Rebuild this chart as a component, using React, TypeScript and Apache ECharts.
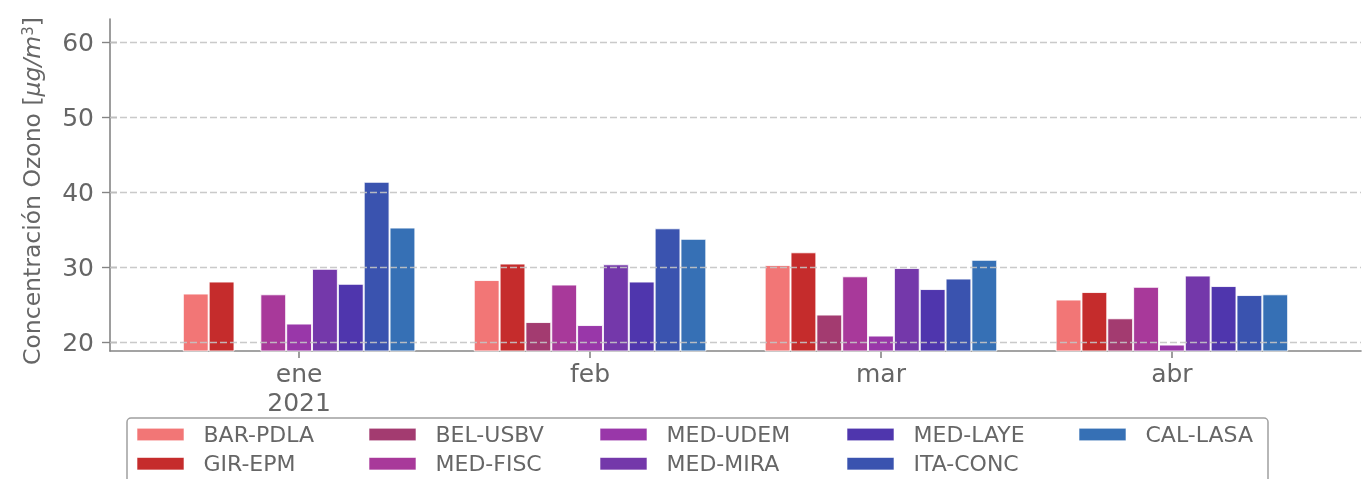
import React, { useEffect, useRef } from "react";
import * as echarts from "echarts";

const months = ["ene\n2021", "feb", "mar", "abr"];
const monthPos = [0, 1, 2, 3];
const yTicks = [20, 30, 40, 50, 60];

const stations = [
  "BAR-PDLA",
  "GIR-EPM",
  "BEL-USBV",
  "MED-FISC",
  "MED-UDEM",
  "MED-MIRA",
  "MED-LAYE",
  "ITA-CONC",
  "CAL-LASA",
];
const colors = [
  "#f27676",
  "#c52c2c",
  "#a33b70",
  "#a8399a",
  "#9937a9",
  "#7438aa",
  "#4f36ad",
  "#3a53af",
  "#3670b5",
];

const barPdla = [26.5, 28.3, 30.3, 25.7];
const girEpm = [28.1, 30.5, 32.0, 26.7];
const belUsbv = [null, 22.7, 23.7, 23.2];
const medFisc = [26.4, 27.7, 28.8, 27.4];
const medUdem = [22.5, 22.3, 20.9, 19.7];
const medMira = [29.8, 30.4, 29.9, 28.9];
const medLaye = [27.8, 28.1, 27.1, 27.5];
const itaConc = [41.4, 35.2, 28.5, 26.3];
const calLasa = [35.3, 33.8, 31.0, 26.4];

const seriesValues = [
  barPdla,
  girEpm,
  belUsbv,
  medFisc,
  medUdem,
  medMira,
  medLaye,
  itaConc,
  calLasa,
];

// legend layout: column-major, 2 rows
const legendLeft = [137, 369, 600, 847, 1079];
const legendRowY = [434.5, 463.7];

const FONT = "DejaVu Sans";
const TXT = "#666666";
const AX = "#858585";

export default function App() {
  const ref = useRef<HTMLDivElement>(null);
  useEffect(() => {
    if (!ref.current) return;
    const chart = echarts.init(ref.current, null, { renderer: "svg" });
    const series: any[] = stations.map((name, k) => ({
      name,
      type: "bar",
      barWidth: 25.84,
      barGap: "0%",
      data: seriesValues[k]
        .map((v, i) => (v == null ? null : [monthPos[i], v]))
        .filter((d) => d !== null),
      itemStyle: {
        color: colors[k],
        borderColor: "rgba(255,255,255,0.85)",
        borderWidth: 1,
      },
      emphasis: { disabled: true },
    }));
    series[series.length - 1].markLine = {
      silent: true,
      symbol: "none",
      label: { show: false },
      lineStyle: { color: "#c4c4c4", type: [7, 3], width: 1.4, opacity: 0.9 },
      data: yTicks.map((t) => ({ yAxis: t })),
      z: 10,
    };

    const legendGraphics: any[] = [];
    stations.forEach((name, k) => {
      const c = Math.floor(k / 2);
      const r = k % 2;
      legendGraphics.push({
        type: "rect",
        shape: { x: legendLeft[c], y: legendRowY[r] - 6.25, width: 47, height: 12.5 },
        style: { fill: colors[k], stroke: "rgba(255,255,255,0.6)", lineWidth: 1 },
        silent: true,
      });
      legendGraphics.push({
        type: "text",
        x: legendLeft[c] + 66.5,
        y: legendRowY[r],
        style: {
          text: name,
          fontFamily: FONT,
          fontSize: 22,
          fill: TXT,
          align: "left",
          verticalAlign: "middle",
        },
        silent: true,
      });
    });

    const option: any = {
      animation: false,
      grid: { left: 110, right: 5, top: 19, bottom: 128, containLabel: false },
      xAxis: {
        type: "value",
        min: -0.65,
        max: 3.65,
        axisLine: { show: true, onZero: false, lineStyle: { color: AX, width: 1.6 } },
        axisTick: {
          show: true,
          customValues: monthPos,
          length: 7,
          lineStyle: { color: AX, width: 1.6 },
        },
        axisLabel: {
          customValues: monthPos,
          formatter: (v: number) => months[Math.round(v)],
          fontFamily: FONT,
          fontSize: 25,
          lineHeight: 29,
          color: TXT,
          margin: 8,
        },
        splitLine: { show: false },
      },
      yAxis: [
        {
          type: "value",
          min: 18.84,
          max: 63.1,
          axisLine: { show: true, onZero: false, lineStyle: { color: AX, width: 1.6 } },
          axisTick: {
            show: true,
            customValues: yTicks,
            length: 8,
            lineStyle: { color: AX, width: 1.4 },
          },
          axisLabel: {
            customValues: yTicks,
            fontFamily: FONT,
            fontSize: 25,
            color: TXT,
            margin: 16,
          },
          splitLine: { show: false },
        },
        {
          type: "value",
          position: "left",
          offset: 0,
          min: 18.84,
          max: 63.1,
          axisLine: { show: false, onZero: false },
          axisTick: {
            show: true,
            inside: true,
            customValues: yTicks,
            length: 7,
            lineStyle: { color: AX, width: 1.4 },
          },
          axisLabel: { show: false },
          splitLine: { show: false },
        },
      ],
      graphic: [
        {
          type: "rect",
          shape: { x: 127, y: 418, width: 1141, height: 90, r: 4 },
          style: { fill: "none", stroke: "#a0a0a0", lineWidth: 1.5 },
          silent: true,
        },
        ...legendGraphics,
        {
          type: "text",
          x: 32,
          y: 191,
          rotation: Math.PI / 2,
          style: {
            text: "Concentración Ozono [{i|μg/m}{s|3}]",
            fontFamily: FONT,
            fontSize: 23.5,
            fill: TXT,
            align: "center",
            verticalAlign: "middle",
            rich: {
              i: { fontFamily: FONT, fontSize: 23.5, fontStyle: "italic", fill: TXT },
              s: {
                fontFamily: FONT,
                fontSize: 15,
                fill: TXT,
                verticalAlign: "top",
                padding: [0, 0, 8, 0],
              },
            },
          },
          silent: true,
        },
      ],
      series,
    };
    chart.setOption(option);
    return () => chart.dispose();
  }, []);
  return (
    <div
      ref={ref}
      style={{ position: "fixed", left: 0, top: 0, width: 1366, height: 479 }}
    />
  );
}
